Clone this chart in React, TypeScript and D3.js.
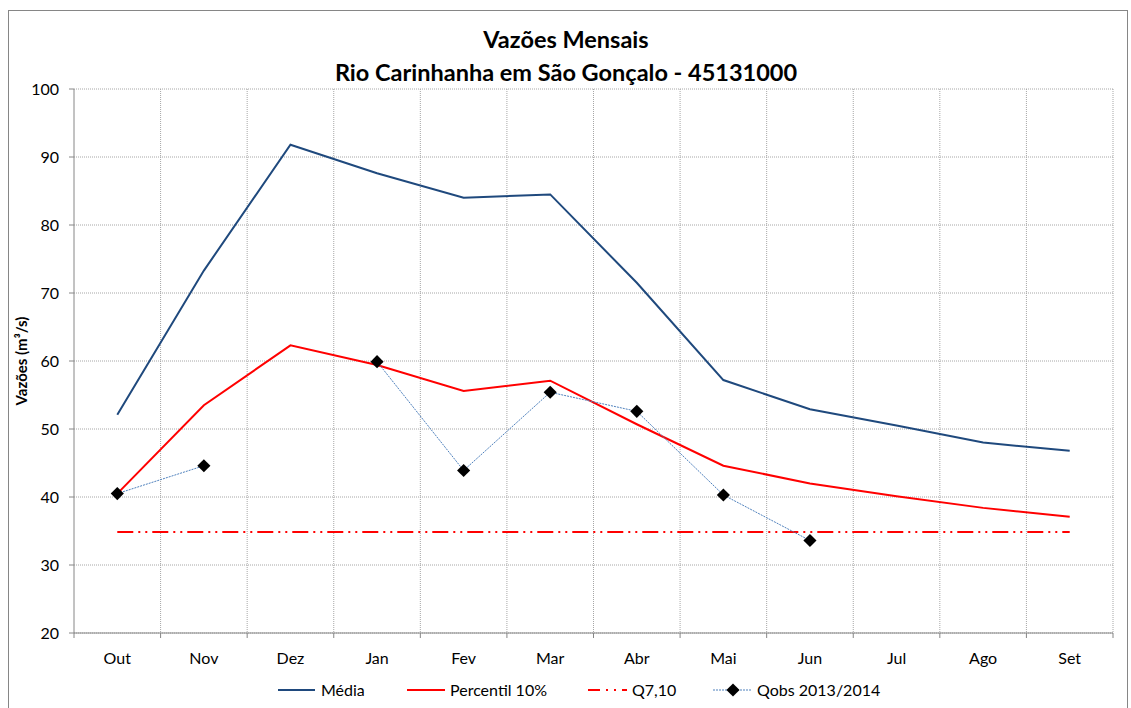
import React from "react";
import * as d3 from "d3";

const months = ["Out", "Nov", "Dez", "Jan", "Fev", "Mar", "Abr", "Mai", "Jun", "Jul", "Ago", "Set"];
const media = [52.1, 73.3, 91.8, 87.6, 84.0, 84.5, 71.5, 57.2, 52.9, 50.5, 48.0, 46.8];
const percentil10 = [40.5, 53.5, 62.3, 59.4, 55.6, 57.1, 50.7, 44.6, 42.0, 40.1, 38.4, 37.1];
const q710 = 34.85;
const qobs: (number | null)[] = [40.5, 44.6, null, 59.9, 43.9, 55.4, 52.6, 40.3, 33.6, null, null, null];
const yTicks = [20, 30, 40, 50, 60, 70, 80, 90, 100];

const W = 1131, H = 708;
const left = 74, right = 1113, top = 89, bottom = 633;
const FONT = "Lato, 'Open Sans', sans-serif";

export default function App() {
  const x = d3.scaleBand<string>().domain(months).range([left, right]);
  const y = d3.scaleLinear().domain([20, 100]).range([bottom, top]);
  const cx = (m: string) => (x(m) as number) + x.bandwidth() / 2;

  const line = d3
    .line<number | null>()
    .defined((d) => d != null)
    .x((_, i) => cx(months[i]))
    .y((d) => y(d as number));

  const boundaries = months.map((m) => x(m) as number).concat([right]);
  const diamond = d3.symbol(d3.symbolDiamond2, 110)() || "";

  const legendY = 690;
  return (
    <svg width={W} height={H} style={{ position: "absolute", left: 0, top: 0, fontFamily: FONT }}>
      <rect x={0} y={0} width={W} height={H} fill="white" />
      <rect x={8.5} y={10.5} width={1119} height={700} fill="white" stroke="#868686" strokeWidth={1} />
      <text x={566} y={48} textAnchor="middle" fontSize={23.5} fontWeight="bold">Vazões Mensais</text>
      <text x={566} y={81} textAnchor="middle" fontSize={23.5} fontWeight="bold">Rio Carinhanha em São Gonçalo - 45131000</text>

      {/* grid */}
      {yTicks.map((t) => (
        <line key={"h" + t} x1={left} x2={right} y1={y(t)} y2={y(t)} stroke="#a6a6a6" strokeDasharray="1,1" />
      ))}
      {boundaries.slice(1).map((b, i) => (
        <line key={"v" + i} x1={b} x2={b} y1={top} y2={bottom} stroke="#a6a6a6" strokeDasharray="1,1" />
      ))}
      {/* axes */}
      <line x1={left} x2={left} y1={top} y2={bottom} stroke="#868686" />
      <line x1={left} x2={right} y1={bottom} y2={bottom} stroke="#868686" />
      {yTicks.map((t) => (
        <g key={"yt" + t}>
          <line x1={left - 5} x2={left} y1={y(t)} y2={y(t)} stroke="#868686" />
          <text x={left - 15} y={y(t) + 6} textAnchor="end" fontSize={16}>{t}</text>
        </g>
      ))}
      {boundaries.map((b, i) => (
        <line key={"xt" + i} x1={b} x2={b} y1={bottom} y2={bottom + 5} stroke="#868686" />
      ))}
      {months.map((m) => (
        <text key={"xl" + m} x={cx(m)} y={664} textAnchor="middle" fontSize={16}>{m}</text>
      ))}
      <text transform={`translate(27,${(top + bottom) / 2}) rotate(-90)`} textAnchor="middle" fontSize={15} fontWeight="bold">Vazões (m³/s)</text>

      {/* series */}
      <line x1={cx(months[0])} x2={cx(months[11])} y1={y(q710)} y2={y(q710)} stroke="#ff0000" strokeWidth={2} strokeDasharray="16,5,2,5,2,5" />
      <path d={line(media) || ""} fill="none" stroke="#1f497d" strokeWidth={2} />
      <path d={line(percentil10) || ""} fill="none" stroke="#ff0000" strokeWidth={2} />
      <path d={line(qobs) || ""} fill="none" stroke="#4f81bd" strokeWidth={1} strokeDasharray="2,1" />
      {qobs.map((v, i) =>
        v == null ? null : (
          <path key={"m" + i} d={diamond} transform={`translate(${cx(months[i])},${y(v)})`} fill="black" />
        )
      )}

      {/* legend */}
      <line x1={278} x2={315} y1={legendY} y2={legendY} stroke="#1f497d" strokeWidth={2} />
      <text x={321} y={legendY + 6} fontSize={16}>Média</text>
      <line x1={407} x2={445} y1={legendY} y2={legendY} stroke="#ff0000" strokeWidth={2} />
      <text x={450} y={legendY + 6} fontSize={16}>Percentil 10%</text>
      <line x1={588} x2={627} y1={legendY} y2={legendY} stroke="#ff0000" strokeWidth={2} strokeDasharray="12,6,2,6,2,6" />
      <text x={632} y={legendY + 6} fontSize={16}>Q7,10</text>
      <line x1={713} x2={752} y1={legendY} y2={legendY} stroke="#4f81bd" strokeWidth={1} strokeDasharray="2,1" />
      <path d={diamond} transform={`translate(733,${legendY})`} fill="black" />
      <text x={757} y={legendY + 6} fontSize={16}>Qobs 2013/2014</text>
    </svg>
  );
}
